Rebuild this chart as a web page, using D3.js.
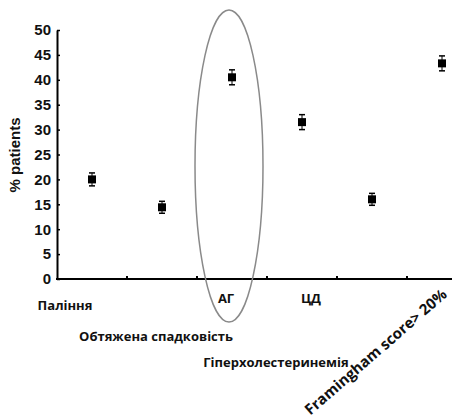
<!DOCTYPE html>
<html>
<head>
<meta charset="utf-8">
<script src="https://cdn.jsdelivr.net/npm/d3@7"></script>
<style>
  body { margin: 0; background: #fff; }
  svg { display: block; }
</style>
</head>
<body>
<svg id="chart" width="452" height="419"></svg>
<script>
// Data
const categories = ["Паління", "Обтяжена спадковість", "АГ", "ЦД", "Гіперхолестеринемія", "Framingham score> 20%"];
const values = [20.0, 14.4, 40.5, 31.5, 16.0, 43.3];
const errors = [1.3, 1.2, 1.5, 1.5, 1.2, 1.5];
const yTicks = [0, 5, 10, 15, 20, 25, 30, 35, 40, 45, 50];

// Label layout (offset from band centre, baseline, rotation, size)
const labelLayout = [
	{dx: -27, y: 310, rot: 0, size: 13},
	{dx: -6, y: 341, rot: 0, size: 13},
	{dx: -6, y: 303, rot: 0, size: 13},
	{dx: 9, y: 303, rot: 0, size: 13},
	{dx: -96, y: 367, rot: 0, size: 13},
	{dx: 6, y: 296, rot: -41, size: 15}
];

const svg = d3.select("#chart");

const margin = {left: 57, top: 30, bottom: 279};
const bandW = 70;

const x = d3.scaleBand()
	.domain(categories)
	.range([margin.left, margin.left + bandW * categories.length])
	.padding(0);

const y = d3.scaleLinear()
	.domain([0, 50])
	.range([margin.bottom, margin.top]);

// y axis
const yAxis = svg.append("g")
	.attr("transform", "translate(" + margin.left + ",0)")
	.call(d3.axisLeft(y).tickValues(yTicks).tickSize(-3).tickSizeOuter(0).tickPadding(6));
yAxis.select(".domain").attr("stroke", "#000").attr("stroke-width", 2);
yAxis.selectAll(".tick line").attr("stroke", "#000").attr("stroke-width", 1.5);
yAxis.selectAll("text")
	.style("font-family", "'Liberation Sans', Arial, sans-serif")
	.style("font-weight", "bold")
	.style("font-size", "15px")
	.attr("fill", "#111");

// x axis line with small inner ticks at band edges
svg.append("line")
	.attr("x1", margin.left - 1)
	.attr("x2", 452)
	.attr("y1", y(0))
	.attr("y2", y(0))
	.attr("stroke", "#000")
	.attr("stroke-width", 2);

svg.selectAll("line.xtick")
	.data(categories.slice(1))
	.join("line")
		.attr("class", "xtick")
		.attr("x1", d => x(d))
		.attr("x2", d => x(d))
		.attr("y1", y(0))
		.attr("y2", y(0) - 3)
		.attr("stroke", "#000")
		.attr("stroke-width", 2);

// y label
svg.append("text")
	.attr("transform", "translate(20,155)rotate(-90)")
	.attr("text-anchor", "middle")
	.style("font-family", "'Liberation Sans', Arial, sans-serif")
	.style("font-weight", "bold")
	.style("font-size", "15px")
	.attr("fill", "#111")
	.text("% patients");

// ellipse highlight around АГ
const hi = categories[2];
svg.append("ellipse")
	.attr("cx", x(hi) + x.bandwidth() / 2 - 3)
	.attr("cy", 166)
	.attr("rx", 34)
	.attr("ry", 156)
	.attr("fill", "none")
	.attr("stroke", "#8a8a8a")
	.attr("stroke-width", 1.5);

// error bars and markers
const pts = categories.map((c, i) => ({cat: c, v: values[i], e: errors[i]}));
const cx = d => x(d.cat) + x.bandwidth() / 2;

svg.selectAll("line.err")
	.data(pts)
	.join("line")
		.attr("class", "err")
		.attr("x1", cx).attr("x2", cx)
		.attr("y1", d => y(d.v + d.e)).attr("y2", d => y(d.v - d.e))
		.attr("stroke", "#000").attr("stroke-width", 1);

svg.selectAll("line.capTop")
	.data(pts)
	.join("line")
		.attr("class", "capTop")
		.attr("x1", d => cx(d) - 3).attr("x2", d => cx(d) + 3)
		.attr("y1", d => y(d.v + d.e)).attr("y2", d => y(d.v + d.e))
		.attr("stroke", "#000").attr("stroke-width", 1.5);

svg.selectAll("line.capBot")
	.data(pts)
	.join("line")
		.attr("class", "capBot")
		.attr("x1", d => cx(d) - 3).attr("x2", d => cx(d) + 3)
		.attr("y1", d => y(d.v - d.e)).attr("y2", d => y(d.v - d.e))
		.attr("stroke", "#000").attr("stroke-width", 1.5);

svg.selectAll("rect.pt")
	.data(pts)
	.join("rect")
		.attr("class", "pt")
		.attr("x", d => cx(d) - 4)
		.attr("y", d => y(d.v) - 4)
		.attr("width", 8)
		.attr("height", 8)
		.attr("fill", "#000");

// category labels
svg.selectAll("text.cat")
	.data(categories)
	.join("text")
		.attr("class", "cat")
		.attr("text-anchor", (d, i) => labelLayout[i].rot ? "end" : "middle")
		.attr("transform", (d, i) => {
			const l = labelLayout[i];
			return "translate(" + (x(d) + x.bandwidth() / 2 + l.dx) + "," + l.y + ")rotate(" + l.rot + ")";
		})
		.style("font-family", "'Open Sans', sans-serif")
		.style("font-weight", "bold")
		.style("font-size", (d, i) => labelLayout[i].size + "px")
		.attr("fill", "#111")
		.text(d => d);
</script>
</body>
</html>
